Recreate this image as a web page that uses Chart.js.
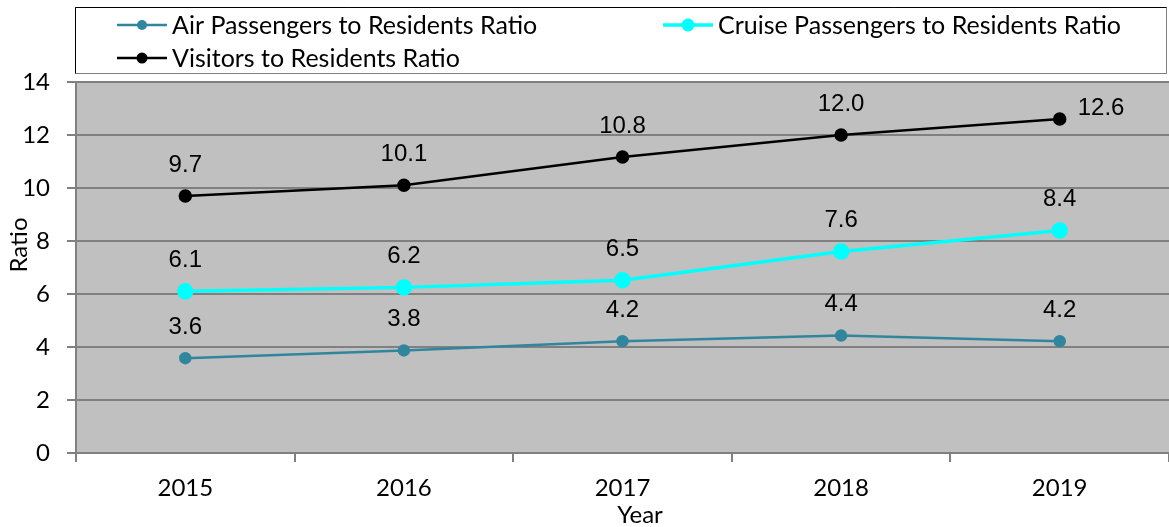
<!DOCTYPE html>
<html>
<head>
<meta charset="utf-8">
<script src="https://cdn.jsdelivr.net/npm/chart.js@4"></script>
<style>
  html, body { margin: 0; padding: 0; background: #fff; overflow: hidden; }
  #wrap { width: 1169px; height: 527px; position: relative; }
  canvas { display: block; }
</style>
</head>
<body>
<div id="wrap"><canvas id="chart" width="1169" height="527"></canvas></div>
<script>
// data
const years = ["2015", "2016", "2017", "2018", "2019"];
const airRatio = [3.58, 3.87, 4.22, 4.43, 4.22];
const cruiseRatio = [6.1, 6.25, 6.52, 7.6, 8.4];
const visitorRatio = [9.7, 10.1, 11.17, 12.0, 12.6];
const airLabels = ["3.6", "3.8", "4.2", "4.4", "4.2"];
const cruiseLabels = ["6.1", "6.2", "6.5", "7.6", "8.4"];
const visitorLabels = ["9.7", "10.1", "10.8", "12.0", "12.6"];
const yTicks = [0, 2, 4, 6, 8, 10, 12, 14];

const textFont = "Lato, 'Liberation Sans', sans-serif";

// gray plot background
const plotBg = {
  id: "plotBg",
  beforeDraw(chart) {
    const { ctx, chartArea: a } = chart;
    ctx.save();
    ctx.fillStyle = "#c0c0c0";
    ctx.fillRect(a.left, a.top, a.right - a.left, a.bottom - a.top);
    ctx.restore();
  }
};

// value labels above points
const valueLabels = {
  id: "valueLabels",
  afterDatasetsDraw(chart) {
    const ctx = chart.ctx;
    ctx.save();
    ctx.font = "24px 'Liberation Sans', Arial, sans-serif";
    ctx.fillStyle = "#000";
    ctx.textBaseline = "middle";
    chart.data.datasets.forEach((ds, i) => {
      const meta = chart.getDatasetMeta(i);
      meta.data.forEach((pt, j) => {
        const txt = ds.valueText[j];
        if (i === 2 && j === 4) {
          ctx.textAlign = "left";
          ctx.fillText(txt, pt.x + 18, pt.y - 11);
        } else {
          ctx.textAlign = "center";
          ctx.fillText(txt, pt.x, pt.y - 31);
        }
      });
    });
    ctx.restore();
  }
};

// axis titles placed like the original
const axisTitles = {
  id: "axisTitles",
  afterDraw(chart) {
    const ctx = chart.ctx;
    ctx.save();
    ctx.font = "24px " + textFont;
    ctx.fillStyle = "#000";
    ctx.textAlign = "center";
    ctx.textBaseline = "middle";
    ctx.fillText("Year", 640, 515);
    ctx.translate(19, 245);
    ctx.rotate(-Math.PI / 2);
    ctx.fillText("Ratio", 0, 0);
    ctx.restore();
  }
};

// boxed legend in two columns
const boxLegend = {
  id: "boxLegend",
  afterDraw(chart) {
    const ctx = chart.ctx;
    ctx.save();
    ctx.fillStyle = "#fff";
    ctx.fillRect(75, 7, 1091, 66);
    ctx.strokeStyle = "#808080";
    ctx.lineWidth = 1;
    ctx.strokeRect(75.5, 7.5, 1091, 66);
    ctx.strokeStyle = "#000";
    ctx.beginPath();
    ctx.moveTo(75.5, 73.5); ctx.lineTo(75.5, 7.5); ctx.lineTo(1166.5, 7.5);
    ctx.stroke();
    const spots = [[117, 25], [663, 25], [117, 58]];
    ctx.font = "25px " + textFont;
    ctx.textBaseline = "middle";
    ctx.textAlign = "left";
    chart.data.datasets.forEach((ds, i) => {
      const [x, y] = spots[i];
      ctx.strokeStyle = ds.borderColor;
      ctx.lineWidth = ds.borderWidth;
      ctx.beginPath();
      ctx.moveTo(x, y); ctx.lineTo(x + 50, y);
      ctx.stroke();
      ctx.fillStyle = ds.pointBackgroundColor;
      ctx.beginPath();
      ctx.arc(x + 25, y, ds.pointRadius, 0, Math.PI * 2);
      ctx.fill();
      ctx.fillStyle = "#000";
      ctx.fillText(ds.label, x + 55, y + 1);
    });
    ctx.restore();
  }
};

new Chart(document.getElementById("chart"), {
  type: "line",
  data: {
    labels: years,
    datasets: [
      {
        label: "Air Passengers to Residents Ratio",
        data: airRatio,
        valueText: airLabels,
        borderColor: "#31859c",
        pointBackgroundColor: "#31859c",
        pointBorderColor: "#31859c",
        borderWidth: 2.5,
        pointRadius: 5,
        tension: 0
      },
      {
        label: "Cruise Passengers to Residents Ratio",
        data: cruiseRatio,
        valueText: cruiseLabels,
        borderColor: "#00ffff",
        pointBackgroundColor: "#00ffff",
        pointBorderColor: "#00ffff",
        borderWidth: 3.5,
        pointRadius: 6.5,
        tension: 0
      },
      {
        label: "Visitors to Residents Ratio",
        data: visitorRatio,
        valueText: visitorLabels,
        borderColor: "#000000",
        pointBackgroundColor: "#000000",
        pointBorderColor: "#000000",
        borderWidth: 2.5,
        pointRadius: 5.5,
        tension: 0
      }
    ]
  },
  options: {
    responsive: false,
    animation: false,
    layout: { autoPadding: false, padding: { top: 82, right: 0, left: 0, bottom: 0 } },
    plugins: {
      legend: { display: false },
      tooltip: { enabled: false }
    },
    scales: {
      x: {
        offset: true,
        grid: {
          offset: true,
          drawOnChartArea: false,
          color: "#808080",
          lineWidth: 2,
          tickLength: 9
        },
        border: { color: "#808080", width: 2 },
        ticks: { font: { family: textFont, size: 24 }, color: "#000", padding: 12, maxRotation: 0 },
        afterFit(scale) {
          scale.height = 74;
          scale.paddingLeft = 0;
          scale.paddingRight = 0;
        }
      },
      y: {
        min: 0,
        max: 14,
        afterBuildTicks(scale) { scale.ticks = yTicks.map(v => ({ value: v })); },
        grid: { color: "#808080", lineWidth: 2, tickLength: 9 },
        border: { color: "#808080", width: 2 },
        ticks: { font: { family: textFont, size: 24 }, color: "#000", padding: 17 },
        afterFit(scale) {
          scale.width = 76;
          scale.paddingTop = 0;
          scale.paddingBottom = 0;
        }
      }
    }
  },
  plugins: [plotBg, valueLabels, axisTitles, boxLegend]
});
</script>
</body>
</html>
